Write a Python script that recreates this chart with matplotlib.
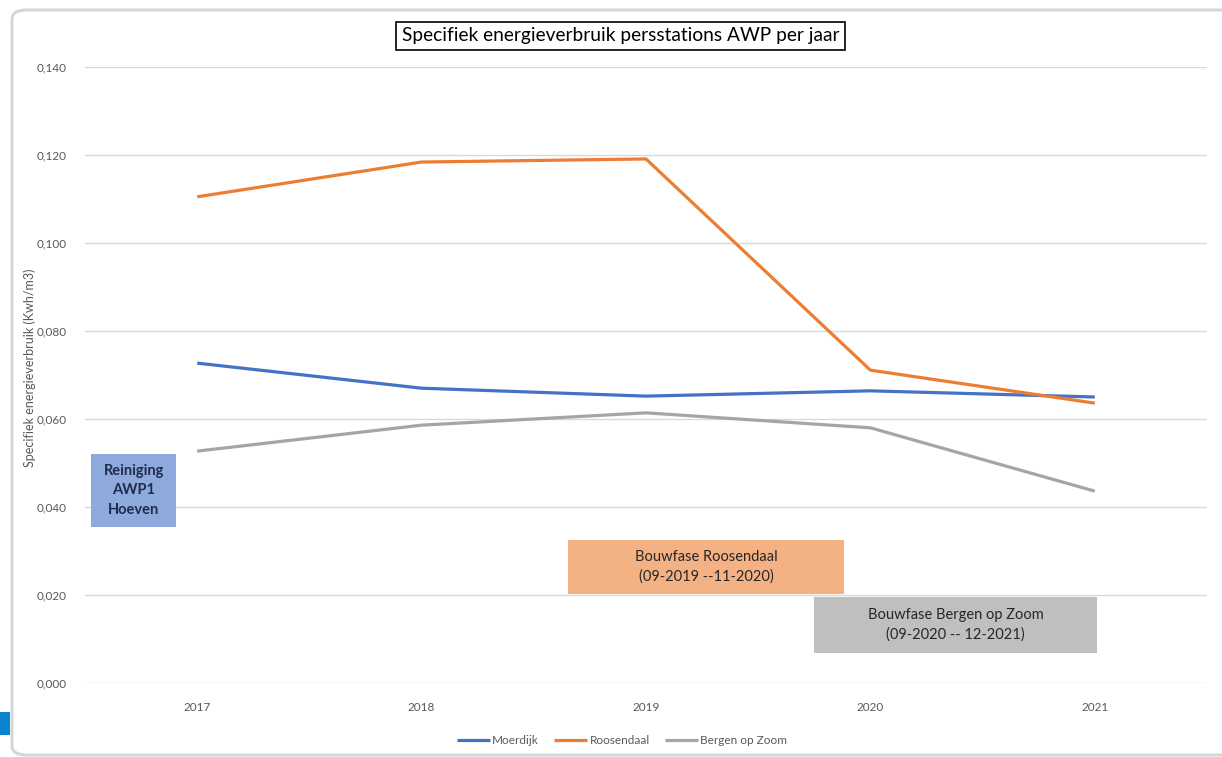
import matplotlib
matplotlib.use("Agg")
import matplotlib.pyplot as plt
from matplotlib.patches import FancyBboxPatch, Rectangle

plt.rcParams['font.family'] = ['Lato', 'DejaVu Sans']

years = ["2017", "2018", "2019", "2020", "2021"]
moerdijk = [0.0727, 0.0670, 0.0652, 0.0664, 0.0650]
roosendaal = [0.1105, 0.1184, 0.1191, 0.0711, 0.0636]
bergen = [0.0527, 0.0586, 0.0614, 0.0580, 0.0436]
y_ticks = [0.0, 0.02, 0.04, 0.06, 0.08, 0.10, 0.12, 0.14]
y_labels = ["0,000", "0,020", "0,040", "0,060", "0,080", "0,100", "0,120", "0,140"]

W, H = 1222, 757
fig = plt.figure(figsize=(W / 100, H / 100), dpi=100)

# outer chart frame (rounded, cut off on the right)
frame = FancyBboxPatch((12 / W, 2 / H), 1.2, (745 / H), boxstyle="round,pad=0,rounding_size=0.012",
                       transform=fig.transFigure, facecolor="white", edgecolor="#d6d6d6",
                       linewidth=2.2, zorder=0)
fig.patches.append(frame)
fig.patches.append(Rectangle((0, 1 - 735 / H), 10 / W, 23 / H, transform=fig.transFigure,
                             facecolor="#0a84d0", edgecolor="none", zorder=1))

ax = fig.add_axes([85 / W, 1 - 683 / H, (1207 - 85) / W, (683 - 67) / H])
ax.set_zorder(3)
ax.set_facecolor("none")
x = list(range(len(years)))
ax.plot(x, moerdijk, color="#4472C4", lw=2.3, label="Moerdijk", solid_capstyle="butt", zorder=3)
ax.plot(x, roosendaal, color="#ED7D31", lw=2.3, label="Roosendaal", solid_capstyle="butt", zorder=3)
ax.plot(x, bergen, color="#A5A5A5", lw=2.3, label="Bergen op Zoom", solid_capstyle="butt", zorder=3)

ax.set_xlim(-0.5, len(years) - 0.5)
ax.set_ylim(0, 0.14)
ax.set_xticks(x)
ax.set_xticklabels(years)
ax.set_yticks(y_ticks)
ax.set_yticklabels(y_labels)
ax.tick_params(length=0, labelsize=8.5, colors="#595959")
ax.tick_params(axis="y", pad=13)
ax.tick_params(axis="x", pad=14)
ax.grid(axis="y", color="#d9d9d9", lw=1)
ax.set_axisbelow(True)
for s in ax.spines.values():
    s.set_visible(False)

fig.text(30 / W, 1 - 368 / H, "Specifiek energieverbruik (Kwh/m3)", rotation=90,
         ha="center", va="center", fontsize=9, color="#595959", zorder=4)

fig.text(621 / W, 1 - 36 / H, "Specifiek energieverbruik persstations AWP per jaar",
         ha="center", va="center", fontsize=13.8, color="black", zorder=4,
         bbox=dict(boxstyle="square,pad=0.3", facecolor="white", edgecolor="black", lw=1.2))

# annotation boxes
def note(x0, x1, y0, y1, color, text, tcolor, size, weight="normal"):
    ax.add_patch(Rectangle((x0, y0), x1 - x0, y1 - y0, facecolor=color, edgecolor="none", zorder=4))
    ax.text((x0 + x1) / 2, (y0 + y1) / 2, text, ha="center", va="center", fontsize=size,
            color=tcolor, weight=weight, zorder=5, linespacing=1.5)

note(-0.473, -0.094, 0.0355, 0.0520, "#8EA9DB", "Reiniging\nAWP1\nHoeven", "#1f2d4d", 10.5, "bold")
note(1.652, 2.884, 0.0202, 0.0325, "#F4B183", "Bouwfase Roosendaal\n(09-2019 --11-2020)", "#262626", 10.5)
note(2.750, 4.009, 0.0068, 0.0195, "#BFBFBF", "Bouwfase Bergen op Zoom\n(09-2020 -- 12-2021)", "#262626", 10.5)

leg = fig.legend(loc="center", bbox_to_anchor=(622 / W, 1 - 741 / H), ncol=3, frameon=False,
                 fontsize=8.5, handlelength=2.8, handletextpad=0.2, columnspacing=1.3,
                 labelcolor="#595959")
leg.set_zorder(4)

fig.savefig("out.png", dpi=100)
